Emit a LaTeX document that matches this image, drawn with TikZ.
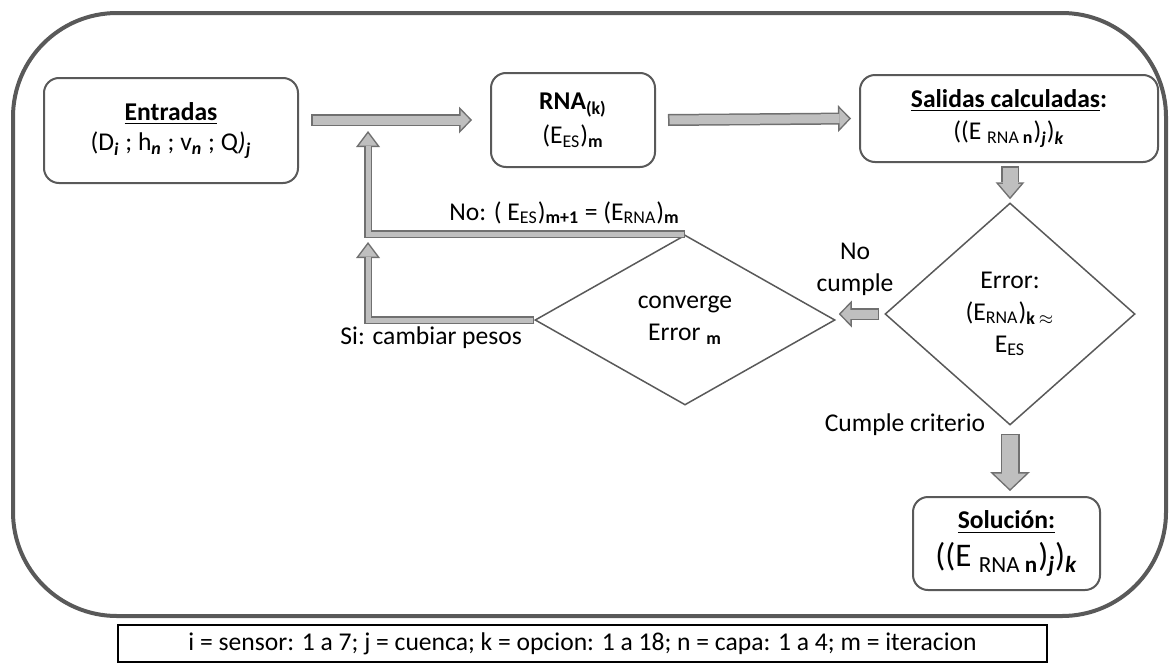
\documentclass[tikz,border=0pt]{standalone}
\usepackage{fontspec}
\setmainfont{Carlito}
\usepackage{tikz}
\usetikzlibrary{%
        arrows.meta,
        calc,
        shapes.geometric
    }
\definecolor{edgegray}{RGB}{89, 89, 89}
\definecolor{arrowedge}{RGB}{112, 112, 112}
\definecolor{arrowfill}{RGB}{191, 191, 191}

\newcommand{\bsub}[1]{\textsubscript{\textbf{#1}}}
\newcommand{\bisub}[1]{\textsubscript{\textbf{\textit{#1}}}}

% block arrows: dark outline first, lighter body on top
\tikzset{
    every node/.style={font=\fontsize{12.8}{16}\selectfont},
    box/.style={draw=edgegray, line width=1pt, rounded corners=7.5pt,
        align=center, inner sep=2pt},
    decision/.style={diamond, draw=edgegray, line width=0.75pt,
        align=center, inner sep=0pt},
    lbl/.style={align=center, inner sep=1pt},
    flatarrow/.style={draw=arrowfill, line width=4.5pt, line join=miter,
        shorten <=0.75pt, shorten >=1.04pt,
        -{Triangle[length=4.71pt, width=9.78pt, line width=0pt]},
        preaction={draw=arrowedge, line width=6pt, shorten <=0pt, shorten >=0pt,
            -{Triangle[length=6.5pt, width=13.5pt, line width=0pt]}}},
    downarrow/.style={draw=arrowfill, line width=7.5pt, line join=miter,
        shorten <=0.75pt, shorten >=1.16pt,
        -{Triangle[length=6.59pt, width=11.25pt, line width=0pt]},
        preaction={draw=arrowedge, line width=9pt, shorten <=0pt, shorten >=0pt,
            -{Triangle[length=8.5pt, width=14.5pt, line width=0pt]}}},
    bigarrow/.style={draw=arrowfill, line width=8pt, line join=miter,
        shorten <=0.75pt, shorten >=1.03pt,
        -{Triangle[length=7.72pt, width=16.25pt, line width=0pt]},
        preaction={draw=arrowedge, line width=9.5pt, shorten <=0pt, shorten >=0pt,
            -{Triangle[length=9.5pt, width=20pt, line width=0pt]}}},
    backarrow/.style={draw=arrowfill, line width=2.5pt, line join=miter,
        shorten <=0.75pt, shorten >=1.25pt,
        -{Triangle[length=6pt, width=9pt, line width=0pt]},
        preaction={draw=arrowedge, line width=4pt, shorten <=0pt, shorten >=0pt,
            -{Triangle[length=8pt, width=12pt, line width=0pt]}}}
}

\begin{document}
\begin{tikzpicture}[x=0.5pt, y=-0.5pt]

    \useasboundingbox (0, 0) rectangle (1170, 664);

    % outer frame
    \draw[edgegray, line width=2pt, rounded corners=52pt] (13, 13) rectangle (1166, 616);

    \node[box, minimum width=127pt, minimum height=52.5pt] (ent) at (171, 130.5)
        {\textbf{\underline{Entradas}}\\[-1pt]
         (D\bisub{i} ; h\bisub{n} ; v\bisub{n} ; Q\textit{)}\bisub{j}};
    \node[box, minimum width=82pt, minimum height=47pt] (rna) at (573, 120)
        {\textbf{RNA\textsubscript{(k)}}\\[1pt] (E\textsubscript{ES})\bsub{m}};
    \node[box, minimum width=149pt, minimum height=43.5pt] (sal) at (1009, 118.5)
        {\textbf{\underline{Salidas calculadas}:}\\
         ((E \textsubscript{RNA \textbf{n}})\bisub{j})\bisub{k}};
    \node[decision, minimum width=125pt, minimum height=111pt] (err) at (1010, 314)
        {Error:\\ (E\textsubscript{RNA})\textsubscript{\textbf{k} $\approx$}\\ E\textsubscript{ES}};
    \node[decision, minimum width=150pt, minimum height=85pt] (conv) at (685, 320)
        {converge\\ Error \bsub{m}};
    \node[box, minimum width=93.5pt, minimum height=46.5pt] (sol) at (1006.5, 543.5)
        {\textbf{\underline{Solución:}}\\[3pt]
         {\fontsize{16.5}{18}\selectfont ((E \textsubscript{RNA \textbf{n}})\bisub{j})\bisub{k}}};

    \node[draw=black, line width=0.75pt, minimum width=464.5pt, minimum height=18.5pt,
        inner sep=0pt] (leyenda) at (582.5, 643.5)
        {i = sensor: 1 a 7; j = cuenca; k = opcion: 1 a 18; n = capa: 1 a 4; m = iteracion};

    \node[lbl] (nocumple) at (855, 269) {No\\cumple};
    \node[lbl] (cumple) at (905, 425) {Cumple criterio};

    \coordinate (retorno) at (368, 131);
    \coordinate (retorno2) at (368, 242);

    \draw[flatarrow] ($(ent.east |- rna.west)+(6pt, 0)$) -- ([xshift=-9pt]rna.west);
    \draw[flatarrow] ([xshift=6pt]rna.east) -- ([xshift=-4pt]sal.west);
    \draw[downarrow] ($(sal.south -| err.north)+(0, -1.5pt)$) -- ([yshift=1.5pt]err.north);
    \draw[flatarrow] ([xshift=-2.5pt]err.west) -- ($(conv.east |- err.west)+(1.5pt, 0)$);
    \draw[bigarrow] ([yshift=-4pt]err.south) -- ($(sol.north -| err.south)+(0, 2.5pt)$);

    \draw[backarrow] (conv.north) -| (retorno)
        node[lbl, pos=0.19, above=3pt]
        {No: ( E\textsubscript{ES})\bsub{m+1} = (E\textsubscript{RNA})\bsub{m}};
    \draw[backarrow] (conv.west) -| (retorno2)
        node[lbl, pos=0.31, below=1pt] {Si: cambiar pesos};

\end{tikzpicture}
\end{document}
